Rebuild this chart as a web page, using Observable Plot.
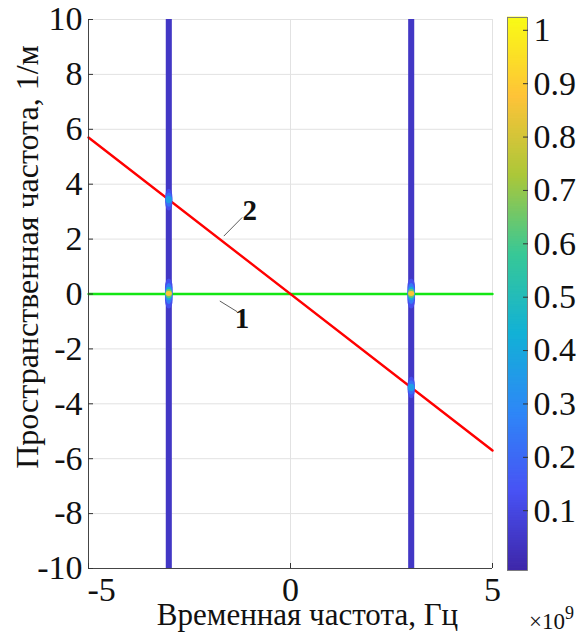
<!DOCTYPE html>
<html><head><meta charset="utf-8">
<script src="https://cdn.jsdelivr.net/npm/d3@7"></script>
<script src="https://cdn.jsdelivr.net/npm/@observablehq/plot@0.6"></script>
<style>
body{margin:0;background:#fff;}
#wrap{position:relative;width:588px;height:639px;font-family:"Liberation Serif","Times New Roman","DejaVu Serif",serif;color:#111;}
#main{position:absolute;left:0;top:0;}
#cbar{position:absolute;left:490px;top:0;}
#exp{position:absolute;left:529px;top:610px;font-size:23px;line-height:23px;white-space:nowrap;}
#exp sup{font-size:18px;vertical-align:10px;line-height:0;}
</style></head><body>
<div id="wrap"><div id="main"></div><div id="cbar"></div><div id="exp">×10<sup>9</sup></div></div>
<script>
// ---- data ----
const xTicks = [-5, 0, 5];
const yTicks = [-10, -8, -6, -4, -2, 0, 2, 4, 6, 8, 10];
const cTicks = [0.1, 0.2, 0.3, 0.4, 0.5, 0.6, 0.7, 0.8, 0.9, 1];
const xLabel = "Временная частота, Гц";
const yLabel = "Пространственная частота, 1/м";
// line 1 (green) and line 2 (red), x in units of 1e9 Hz
const line1X = [-5, 5];
const line1Y = [0, 0];
const line2X = [-5, 5];
const line2Y = [5.7, -5.7];
// spectral bands (vertical ridges)
const bandX = [-3, 3];
const bandHalfW = [0.075, 0.075];
const bandValue = [0.045, 0.045];
// hot spots on the ridges: centre x, centre y, peak kind
const spotX = [-3, 3, -3, 3];
const spotY = [0, 0, 3.42, -3.42];
const spotKind = ["main", "main", "cross", "cross"];
// layered levels of each spot kind: value, half width, half height
const mainLevels = [[0.12, 0.095, 0.55], [0.25, 0.09, 0.38], [0.45, 0.085, 0.25], [0.65, 0.08, 0.16], [0.88, 0.075, 0.09]];
const crossLevels = [[0.12, 0.09, 0.4], [0.22, 0.085, 0.26], [0.36, 0.08, 0.13]];
// annotations
const annX = [-1.2, -1.01];
const annY = [-0.89, 3.03];
const annText = ["1", "2"];
const leadX1 = [-1.75, -1.65];
const leadY1 = [-0.255, 2.11];
const leadX2 = [-1.32, -1.195];
const leadY2 = [-0.645, 2.79];
// colour scale
const cMin = -0.012, cMax = 1.024;
const parula = ["#3e26a8", "#4852f4", "#2e87f7", "#12b1d6", "#37c897", "#abc739", "#fec338", "#f9fb15"];

// ---- build ----
const FONT = "Liberation Serif";
const TICK = 34;
const cDomain = parula.map((_, i) => cMin + i * (cMax - cMin) / (parula.length - 1));
const colorOpts = {type: "linear", domain: cDomain, range: parula, clamp: true};
const bands = bandX.map((x, i) => ({x1: x - bandHalfW[i], x2: x + bandHalfW[i], v: bandValue[i]}));
const spots = [];
spotX.forEach((x, i) => {
  const lv = spotKind[i] === "main" ? mainLevels : crossLevels;
  lv.forEach(([v, hw, hh]) => spots.push({x1: x - hw, x2: x + hw, y1: spotY[i] - hh, y2: spotY[i] + hh, v}));
});
const l1 = line1X.map((x, i) => ({x, y: line1Y[i]}));
const l2 = line2X.map((x, i) => ({x, y: line2Y[i]}));
const ann = annText.map((t, i) => ({x: annX[i], y: annY[i], t}));
const leads = leadX1.map((x, i) => ({x1: x, y1: leadY1[i], x2: leadX2[i], y2: leadY2[i]}));
const fmt = d => String(d);
const ax = {tickSize: -5, tickFormat: () => "", label: null, stroke: "#333"};
const tx = {fontFamily: FONT, fontSize: TICK, fill: "#111", text: fmt};

const main = Plot.plot({
  width: 500, height: 639,
  marginLeft: 88, marginRight: 8, marginTop: 19, marginBottom: 71,
  style: {fontFamily: FONT, fontSize: TICK + "px", background: "white", overflow: "visible"},
  x: {domain: [-5, 5]},
  y: {domain: [-10, 10]},
  color: colorOpts,
  marks: [
    Plot.gridX(xTicks, {stroke: "#e2e2e2", strokeOpacity: 1}),
    Plot.gridY(yTicks, {stroke: "#e2e2e2", strokeOpacity: 1}),
    Plot.line(l1, {x: "x", y: "y", stroke: "#14e614", strokeWidth: 2.4}),
    Plot.line(l2, {x: "x", y: "y", stroke: "#ff0000", strokeWidth: 2.4}),
    Plot.rect(bands, {x1: "x1", x2: "x2", y1: -10, y2: 10, fill: "v", ariaLabel: "bands"}),
    Plot.rect(spots, {x1: "x1", x2: "x2", y1: "y1", y2: "y2", fill: "v", rx: 4, ry: 9, ariaLabel: "spots"}),
    Plot.ruleX([-5], {stroke: "#333", strokeWidth: 0.9}),
    Plot.ruleY([-10], {stroke: "#333", strokeWidth: 0.9}),
    Plot.axisY({...ax, ticks: yTicks}),
    Plot.axisX({...ax, ticks: xTicks}),
    Plot.text(yTicks, {...tx, y: d => d, frameAnchor: "left", textAnchor: "end", lineAnchor: "middle", dx: -6}),
    Plot.text(xTicks.filter(d => d !== -5), {...tx, x: d => d, frameAnchor: "bottom", textAnchor: "middle", lineAnchor: "middle", dy: 22}),
    Plot.text(xTicks.filter(d => d === -5), {...tx, x: d => d, frameAnchor: "bottom", textAnchor: "start", lineAnchor: "middle", dy: 22, dx: -1}),
    Plot.link(leads, {x1: "x1", y1: "y1", x2: "x2", y2: "y2", stroke: "#333", strokeWidth: 0.8}),
    Plot.text(ann, {x: "x", y: "y", text: "t", fontFamily: FONT, fontSize: 29, fontWeight: "bold", fill: "#111"}),
    Plot.text([xLabel], {frameAnchor: "bottom", textAnchor: "middle", lineAnchor: "middle", dx: 17, dy: 47, fontFamily: FONT, fontSize: 31, fill: "#111"}),
    Plot.text([yLabel], {frameAnchor: "left", textAnchor: "middle", lineAnchor: "middle", rotate: -90, dx: -61, dy: -37, fontFamily: FONT, fontSize: 32, fill: "#111"})
  ]
});
main.querySelectorAll('g[aria-label="spots"]').forEach(g => g.style.filter = "blur(1.6px)");
document.getElementById("main").append(main);

const N = 220;
const strip = d3.range(N).map(i => ({y1: cMin + i * (cMax - cMin) / N, y2: cMin + (i + 1) * (cMax - cMin) / N, v: cMin + (i + 0.5) * (cMax - cMin) / N}));
const cb = Plot.plot({
  width: 98, height: 639,
  marginLeft: 17, marginRight: 61, marginTop: 17, marginBottom: 69,
  style: {fontFamily: FONT, fontSize: TICK + "px", background: "transparent", overflow: "visible"},
  x: {domain: [0, 1], axis: null},
  y: {domain: [cMin, cMax]},
  color: colorOpts,
  marks: [
    Plot.rect(strip, {x1: 0, x2: 1, y1: "y1", y2: "y2", fill: "v", insetTop: -0.4, insetBottom: -0.4}),
    Plot.frame({stroke: "#777", strokeWidth: 0.9}),
    Plot.axisY({...ax, anchor: "right", ticks: cTicks}),
    Plot.text(cTicks, {...tx, y: d => d, frameAnchor: "right", textAnchor: "start", lineAnchor: "middle", dx: 6})
  ]
});
document.getElementById("cbar").append(cb);
</script>
</body></html>
